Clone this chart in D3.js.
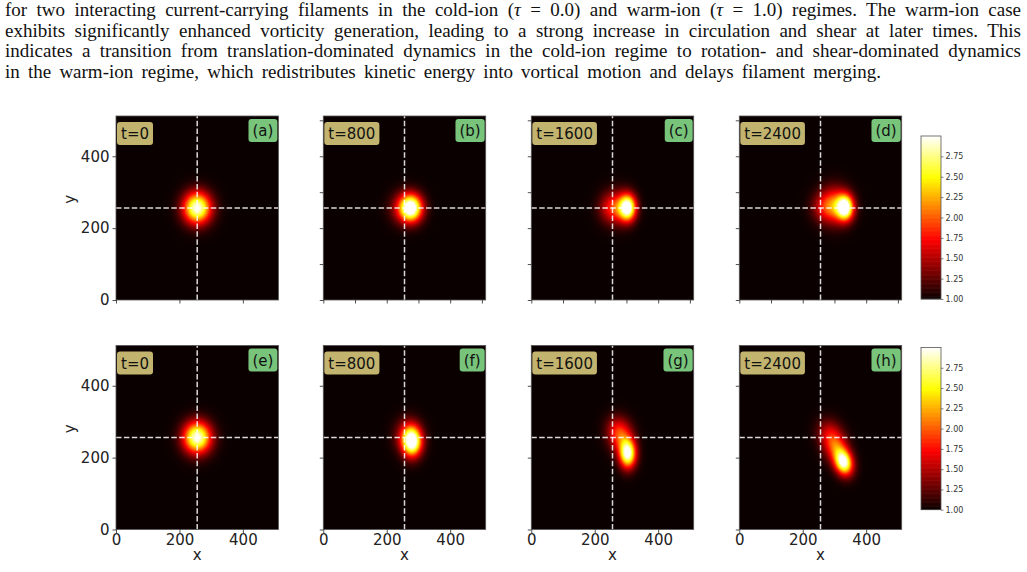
<!DOCTYPE html>
<html>
<head>
<meta charset="utf-8">
<script src="https://cdn.jsdelivr.net/npm/d3@7/dist/d3.min.js"></script>
<style>
  body { margin: 0; background: #fff; }
  svg { display: block; }
</style>
</head>
<body>
<div id="chart"></div>
<script>
// caption lines (justified paragraph above the figure)
var captionLines = [
  ["for two interacting current-carrying filaments in the cold-ion (", "τ", " = 0.0) and warm-ion (", "τ", " = 1.0) regimes. The warm-ion case"],
  ["exhibits significantly enhanced vorticity generation, leading to a strong increase in circulation and shear at later times. This"],
  ["indicates a transition from translation-dominated dynamics in the cold-ion regime to rotation- and shear-dominated dynamics"],
  ["in the warm-ion regime, which redistributes kinetic energy into vortical motion and delays filament merging."]
];

var times = [0, 800, 1600, 2400];
var panelTags = ["(a)", "(b)", "(c)", "(d)", "(e)", "(f)", "(g)", "(h)"];
var gridMax = 512;
var crossX = 256, crossY = 256;
var vmin = 1.0, vmax = 3.0;

// blob components: [cx, cy, sx, sy, amplitude, angle(deg)]
var coreBlobs = [
  [256, 256, 30, 30, 2.0, 0],
  [278, 256, 24, 26, 1.95, 0],
  [304, 257, 18, 25, 2.0, 0],
  [334, 257, 18, 24, 2.0, 0],
  [256, 256, 30, 30, 2.0, 0],
  [280, 244, 21, 28, 2.0, 0],
  [304, 211, 18, 27, 2.0, 0],
  [329, 187, 19, 25, 2.0, 20]
];
var tailBlobs = [
  [256, 256, 10, 10, 0.0, 0],
  [254, 256, 29, 29, 0.6, 0],
  [270, 257, 28, 31, 0.8, 0],
  [300, 263, 31, 34, 1.05, 0],
  [256, 256, 10, 10, 0.0, 0],
  [266, 262, 27, 31, 0.6, 0],
  [283, 258, 25, 31, 0.8, 0],
  [302, 234, 25, 31, 0.95, 20]
];
var haloBlobs = [
  [256, 256, 10, 10, 0.0, 0],
  [256, 256, 10, 10, 0.0, 0],
  [240, 256, 24, 28, 0.25, 0],
  [262, 258, 26, 28, 0.35, 0],
  [256, 256, 10, 10, 0.0, 0],
  [256, 256, 10, 10, 0.0, 0],
  [264, 282, 24, 26, 0.3, 0],
  [278, 274, 26, 26, 0.35, 0]
];

var ticksCoarse = [0, 200, 400];
var ticksFine = [0, 100, 200, 300, 400, 500];
var cbarTicks = [1.00, 1.25, 1.50, 1.75, 2.00, 2.25, 2.50, 2.75];

var width = 1027, height = 572;
var colLeft = [116, 323.3, 531.3, 739.3];
var rowTop = [116, 345.5];
var panelW = 162.4, panelH = 184;
var cbarBox = [{x: 921, y: 136, w: 20, h: 163}, {x: 921, y: 347.5, w: 20, h: 162.2}];

// matplotlib "hot" colormap
function hot(t) {
  t = Math.max(0, Math.min(1, t));
  var r = t < 0.365079 ? 0.0416 + (1 - 0.0416) * t / 0.365079 : 1;
  var g = t < 0.365079 ? 0 : (t < 0.746032 ? (t - 0.365079) / (0.746032 - 0.365079) : 1);
  var b = t < 0.746032 ? 0 : (t - 0.746032) / (1 - 0.746032);
  return d3.rgb(r * 255, g * 255, b * 255).toString();
}
var color = d3.scaleSequential(hot).domain([vmin, vmax]).clamp(true);

function blobValue(bl, x, y) {
  if (bl[4] === 0) return 0;
  var a = bl[5] * Math.PI / 180;
  var dx = x - bl[0], dy = y - bl[1];
  var u = dx * Math.cos(a) + dy * Math.sin(a);
  var v = -dx * Math.sin(a) + dy * Math.cos(a);
  return bl[4] * Math.exp(-(u * u) / (2 * bl[2] * bl[2]) - (v * v) / (2 * bl[3] * bl[3]));
}

function fieldImage(p) {
  var n = 256;
  var canvas = document.createElement("canvas");
  canvas.width = n; canvas.height = n;
  var ctx = canvas.getContext("2d");
  var img = ctx.createImageData(n, n);
  for (var j = 0; j < n; j++) {
    var y = gridMax - (j + 0.5) * gridMax / n;
    for (var i = 0; i < n; i++) {
      var x = (i + 0.5) * gridMax / n;
      var val = vmin + blobValue(coreBlobs[p], x, y) + blobValue(tailBlobs[p], x, y) + blobValue(haloBlobs[p], x, y);
      var c = d3.rgb(color(val));
      var k = (j * n + i) * 4;
      img.data[k] = c.r; img.data[k + 1] = c.g; img.data[k + 2] = c.b; img.data[k + 3] = 255;
    }
  }
  ctx.putImageData(img, 0, 0);
  return canvas.toDataURL();
}

var svg = d3.select("#chart").append("svg")
  .attr("width", width)
  .attr("height", height)
  .style("background", "#fff");

// caption, justified by stretching the word gaps
var cap = svg.append("g")
  .attr("font-family", "'Liberation Serif', 'DejaVu Serif', serif")
  .attr("font-size", 19)
  .attr("fill", "#111");
var capBase = [16, 36.5, 57, 77.5];
var capLen = [1016, 1016, 1016, 876];
captionLines.forEach(function(parts, li) {
  var t = cap.append("text")
    .attr("x", 5)
    .attr("y", capBase[li]);
  parts.forEach(function(s) {
    t.append("tspan")
      .attr("font-style", s === "τ" ? "italic" : null)
      .text(s);
  });
  var natural = t.node().getComputedTextLength();
  var gaps = parts.join("").split(" ").length - 1;
  t.attr("word-spacing", (capLen[li] - natural) / gaps);
});

// panels
d3.range(8).forEach(function(p) {
  var row = Math.floor(p / 4), col = p % 4;
  var left = colLeft[col], top = rowTop[row];
  var x = d3.scaleLinear().domain([0, gridMax]).range([left, left + panelW]);
  var y = d3.scaleLinear().domain([0, gridMax]).range([top + panelH, top]);
  var g = svg.append("g");

  g.append("image")
    .attr("x", x(0)).attr("y", y(gridMax))
    .attr("width", x(gridMax) - x(0)).attr("height", y(0) - y(gridMax))
    .attr("preserveAspectRatio", "none")
    .attr("href", fieldImage(p));

  // dashed cross-hair
  g.append("line")
    .attr("x1", x(crossX)).attr("x2", x(crossX))
    .attr("y1", y(0)).attr("y2", y(gridMax))
    .attr("stroke", "#fff").attr("stroke-opacity", 0.85)
    .attr("stroke-width", 1.5).attr("stroke-dasharray", "5.5,2.4");
  g.append("line")
    .attr("x1", x(0)).attr("x2", x(gridMax))
    .attr("y1", y(crossY)).attr("y2", y(crossY))
    .attr("stroke", "#fff").attr("stroke-opacity", 0.85)
    .attr("stroke-width", 1.5).attr("stroke-dasharray", "5.5,2.4");

  g.append("rect")
    .attr("x", x(0)).attr("y", y(gridMax))
    .attr("width", x(gridMax) - x(0)).attr("height", y(0) - y(gridMax))
    .attr("fill", "none").attr("stroke", "#555").attr("stroke-width", 0.8);

  // axes
  var fine = (row === 0 && col > 0);
  var xt = fine ? ticksFine : ticksCoarse;
  var yt = fine ? ticksFine : ticksCoarse;
  var xAxis = d3.axisBottom(x).tickValues(xt).tickSize(3.5).tickSizeOuter(0).tickPadding(1)
    .tickFormat(row === 1 ? d3.format("d") : function() { return ""; });
  var yAxis = d3.axisLeft(y).tickValues(yt).tickSize(3.5).tickSizeOuter(0).tickPadding(3)
    .tickFormat(col === 0 ? d3.format("d") : function() { return ""; });
  [g.append("g").attr("transform", "translate(0," + (top + panelH) + ")").call(xAxis),
   g.append("g").attr("transform", "translate(" + left + ",0)").call(yAxis)].forEach(function(a) {
    a.select(".domain").remove();
    a.selectAll("line").attr("stroke", "#222").attr("stroke-width", 0.8);
    a.selectAll("text").attr("font-family", "'DejaVu Sans', sans-serif").attr("font-size", 15).attr("fill", "#222");
  });

  if (col === 0) {
    g.append("text")
      .attr("transform", "translate(" + 75 + "," + y(gridMax / 2 + 24) + ") rotate(-90)")
      .attr("text-anchor", "middle")
      .attr("font-family", "'DejaVu Sans', sans-serif").attr("font-size", 15).attr("fill", "#222")
      .text("y");
  }
  if (row === 1) {
    g.append("text")
      .attr("x", x(gridMax / 2)).attr("y", 560)
      .attr("text-anchor", "middle")
      .attr("font-family", "'DejaVu Sans', sans-serif").attr("font-size", 15).attr("fill", "#222")
      .text("x");
  }

  // time label (khaki box)
  var tl = g.append("text")
    .attr("x", left + 5).attr("y", top + 23)
    .attr("font-family", "'DejaVu Sans', sans-serif").attr("font-size", 15).attr("fill", "#111")
    .text("t=" + times[col]);
  var tb = tl.node().getBBox();
  g.insert("rect", function() { return tl.node(); })
    .attr("x", left + 1).attr("y", top + 6)
    .attr("width", tb.width + 8).attr("height", 23)
    .attr("rx", 3).attr("fill", "#c2b46f");

  // panel tag (green box)
  var pt = g.append("text")
    .attr("x", left + panelW - 5).attr("y", top + 20)
    .attr("text-anchor", "end")
    .attr("font-family", "'DejaVu Sans', sans-serif").attr("font-size", 15).attr("fill", "#111")
    .text(panelTags[p]);
  var pb = pt.node().getBBox();
  g.insert("rect", function() { return pt.node(); })
    .attr("x", left + panelW - pb.width - 9).attr("y", top + 3)
    .attr("width", pb.width + 8).attr("height", 23)
    .attr("rx", 3).attr("fill", "#78c47b");
});

// colorbars
cbarBox.forEach(function(b) {
  var cy = d3.scaleLinear().domain([vmin, vmax]).range([b.y + b.h, b.y]);
  var cg = svg.append("g");
  var step = (vmax - vmin) / 200;
  var steps = d3.range(vmin, vmax, step);
  cg.selectAll("rect.cb")
    .data(steps)
    .enter().append("rect")
    .attr("class", "cb")
    .attr("x", b.x).attr("width", b.w)
    .attr("y", function(d) { return cy(d + step) - 0.3; })
    .attr("height", function(d) { return cy(d) - cy(d + step) + 0.6; })
    .attr("fill", function(d) { return color(d + step / 2); });
  cg.append("rect")
    .attr("x", b.x).attr("y", b.y).attr("width", b.w).attr("height", b.h)
    .attr("fill", "none").attr("stroke", "#555").attr("stroke-width", 0.8);
  var ax = cg.append("g").attr("transform", "translate(" + (b.x + b.w) + ",0)")
    .call(d3.axisRight(cy).tickValues(cbarTicks).tickSize(2.5).tickPadding(2).tickFormat(d3.format(".2f")));
  ax.select(".domain").remove();
  ax.selectAll("line").attr("stroke", "#333").attr("stroke-width", 0.6);
  ax.selectAll("text").attr("font-family", "'DejaVu Sans', sans-serif").attr("font-size", 8).attr("fill", "#333");
});
</script>
</body>
</html>
